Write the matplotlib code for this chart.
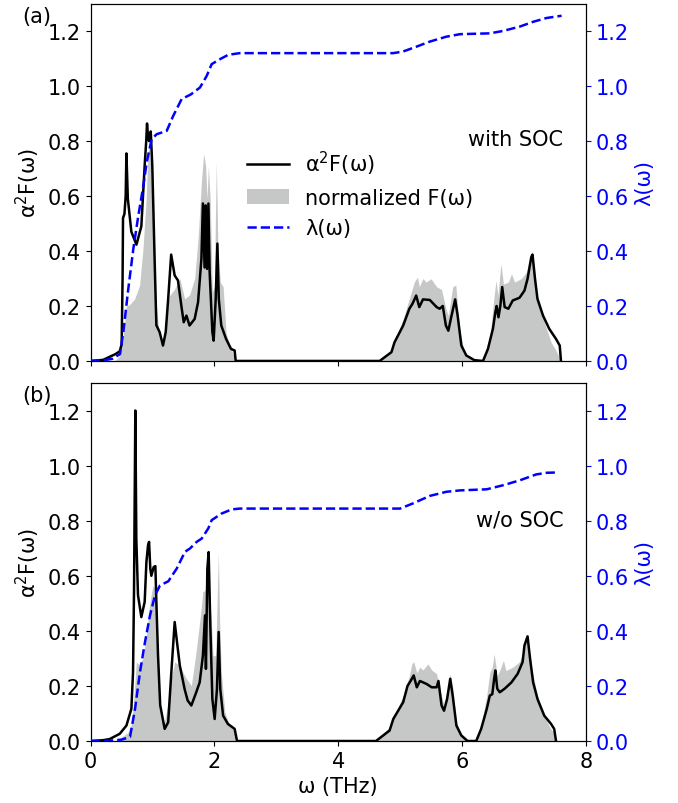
import matplotlib
matplotlib.use("Agg")
import matplotlib.pyplot as plt
from matplotlib.patches import Patch
from matplotlib.lines import Line2D

plt.rcParams['font.family'] = ['DejaVu Sans']
plt.rcParams['font.size'] = 15

# ---------------- data ----------------
# (a) with SOC : alpha^2 F(omega)
a2f_soc_w = [0.0, 0.2, 0.305, 0.40, 0.468, 0.50, 0.515, 0.522, 0.545, 0.565, 0.577, 0.60, 0.657, 0.739,
             0.818, 0.872, 0.897, 0.91, 0.925, 0.943, 0.97, 0.995, 1.035, 1.061, 1.114, 1.168, 1.212,
             1.252, 1.30, 1.357, 1.41, 1.465, 1.503, 1.547, 1.597, 1.68, 1.735, 1.789, 1.813, 1.84,
             1.857, 1.88, 1.902, 1.922, 1.966, 1.987, 2.02, 2.047, 2.07, 2.11, 2.188, 2.267, 2.326,
             2.343, 4.67, 4.86, 4.91, 5.05, 5.15, 5.20, 5.26, 5.31, 5.37, 5.48, 5.59, 5.64, 5.69,
             5.74, 5.78, 5.82, 5.89, 5.93, 5.99, 6.07, 6.2, 6.34, 6.42, 6.50, 6.54, 6.56, 6.59, 6.62,
             6.65, 6.69, 6.75, 6.82, 6.93, 7.01, 7.06, 7.12, 7.14, 7.18, 7.22, 7.31, 7.41, 7.52,
             7.58, 7.60]
a2f_soc_v = [0.0, 0.004, 0.015, 0.025, 0.035, 0.06, 0.30, 0.52, 0.535, 0.60, 0.755, 0.59, 0.47, 0.423,
             0.49, 0.712, 0.80, 0.864, 0.82, 0.80, 0.835, 0.71, 0.35, 0.13, 0.105, 0.056, 0.105,
             0.226, 0.387, 0.311, 0.293, 0.20, 0.141, 0.165, 0.129, 0.153, 0.214, 0.372, 0.573, 0.34,
             0.566, 0.335, 0.573, 0.323, 0.105, 0.074, 0.226, 0.427, 0.226, 0.129, 0.08, 0.044, 0.038,
             0.0, 0.0, 0.032, 0.068, 0.129, 0.19, 0.208, 0.238, 0.196, 0.224, 0.222, 0.196, 0.19, 0.20,
             0.129, 0.11, 0.153, 0.224, 0.165, 0.056, 0.02, 0.003, 0.0, 0.044, 0.117, 0.178, 0.20, 0.159, 0.20,
             0.269, 0.196, 0.19, 0.22, 0.23, 0.256, 0.299, 0.378, 0.387, 0.30, 0.226, 0.165, 0.117, 0.08,
             0.056, 0.0]

# (a) with SOC : normalized F(omega)
f_soc_w = [0.0, 0.39, 0.468, 0.522, 0.577, 0.63, 0.71, 0.79, 0.845, 0.897, 0.926, 0.946, 0.97, 1.005,
           1.061, 1.114, 1.168, 1.222, 1.276, 1.357, 1.44, 1.518, 1.597, 1.68, 1.735, 1.789, 1.825,
           1.857, 1.88, 1.902, 1.93, 1.966, 1.998, 2.03, 2.057, 2.094, 2.14, 2.188, 2.267, 2.343,
           4.67, 4.86, 5.05, 5.18, 5.23, 5.28, 5.31, 5.37, 5.42, 5.50, 5.59, 5.67, 5.74, 5.78, 5.85,
           5.90, 5.96, 6.04, 6.12, 6.34, 6.45, 6.52, 6.55, 6.58, 6.63, 6.67, 6.75, 6.80, 6.85, 6.96,
           7.04, 7.09, 7.14, 7.18, 7.22, 7.33, 7.44, 7.52, 7.58, 7.60]
f_soc_v = [0.0, 0.0, 0.02, 0.08, 0.20, 0.205, 0.226, 0.275, 0.41, 0.59, 0.76, 0.78, 0.70, 0.47,
           0.20, 0.08, 0.05, 0.178, 0.238, 0.262, 0.30, 0.226, 0.24, 0.30, 0.445, 0.652, 0.755,
           0.71, 0.59, 0.71, 0.59, 0.25, 0.27, 0.725, 0.40, 0.287, 0.27, 0.10, 0.044, 0.0,
           0.005, 0.04, 0.153, 0.25, 0.287, 0.305, 0.27, 0.30, 0.287, 0.299, 0.27, 0.26, 0.19, 0.165, 0.27,
           0.276, 0.117, 0.03, 0.01, 0.0, 0.08, 0.238, 0.293, 0.238, 0.354, 0.28, 0.287, 0.317, 0.287, 0.30,
           0.323, 0.366, 0.40, 0.31, 0.226, 0.141, 0.068, 0.038, 0.01, 0.0]

# (a) with SOC : lambda(omega)
lam_soc_w = [0.0, 0.2, 0.35, 0.473, 0.527, 0.607, 0.688, 0.769, 0.85, 0.905, 0.985, 1.066, 1.228,
             1.334, 1.47, 1.62, 1.766, 1.874, 1.955, 2.089, 2.223, 2.41, 4.89, 5.05, 5.27, 5.48,
             5.75, 5.97, 6.45, 6.67, 6.94, 7.15, 7.37, 7.61]
lam_soc_v = [0.0, 0.002, 0.008, 0.025, 0.105, 0.262, 0.407, 0.528, 0.637, 0.723, 0.807, 0.825, 0.837,
             0.892, 0.953, 0.97, 0.995, 1.037, 1.08, 1.098, 1.114, 1.12, 1.12, 1.126, 1.144, 1.162,
             1.18, 1.189, 1.192, 1.201, 1.217, 1.234, 1.248, 1.256]

# (b) w/o SOC : alpha^2 F(omega)
a2f_nosoc_w = [0.0, 0.2, 0.305, 0.468, 0.577, 0.657, 0.684, 0.70, 0.721, 0.737, 0.764, 0.818, 0.872,
               0.90, 0.926, 0.943, 0.963, 0.98, 1.018, 1.045, 1.061, 1.088, 1.123, 1.195, 1.252, 1.303,
               1.357, 1.394, 1.44, 1.518, 1.567, 1.626, 1.707, 1.761, 1.813, 1.847, 1.862, 1.885,
               1.906, 1.934, 1.966, 2.003, 2.04, 2.068, 2.094, 2.14, 2.217, 2.326, 2.365,
               4.61, 4.83, 4.89, 5.05, 5.12, 5.17, 5.22, 5.27, 5.32, 5.43, 5.51, 5.59, 5.62, 5.67,
               5.71, 5.76, 5.81, 5.85, 5.91, 5.99, 6.09, 6.23, 6.31, 6.40, 6.45, 6.49, 6.52, 6.54,
               6.57, 6.61, 6.69, 6.80, 6.90, 6.98, 7.01, 7.06, 7.10, 7.15, 7.22, 7.33, 7.44, 7.49, 7.52]
a2f_nosoc_v = [0.0, 0.003, 0.007, 0.026, 0.056, 0.117, 0.25, 0.55, 1.20, 0.735, 0.53, 0.45, 0.505,
               0.65, 0.71, 0.723, 0.626, 0.60, 0.632, 0.635, 0.505, 0.31, 0.13, 0.044, 0.068, 0.25,
               0.432, 0.36, 0.274, 0.188, 0.147, 0.129, 0.178, 0.213, 0.31, 0.456, 0.262, 0.626,
               0.686, 0.408, 0.153, 0.08, 0.188, 0.396, 0.188, 0.092, 0.062, 0.044, 0.0,
               0.0, 0.038, 0.08, 0.141, 0.2, 0.218, 0.238, 0.195, 0.218, 0.207, 0.195, 0.195, 0.218, 0.129,
               0.11, 0.153, 0.226, 0.165, 0.056, 0.02, 0.0, 0.0, 0.044, 0.116, 0.165, 0.17, 0.226, 0.256,
               0.19, 0.177, 0.19, 0.213, 0.244, 0.287, 0.347, 0.38, 0.30, 0.213, 0.153, 0.092, 0.062, 0.044, 0.0]

# (b) w/o SOC : normalized F(omega)
f_nosoc_w = [0.0, 0.39, 0.468, 0.60, 0.657, 0.69, 0.737, 0.779, 0.845, 0.90, 0.943, 0.976, 1.005,
             1.045, 1.088, 1.123, 1.183, 1.252, 1.30, 1.357, 1.44, 1.488, 1.547, 1.626, 1.695, 1.761,
             1.813, 1.843, 1.88, 1.912, 1.951, 1.976, 2.02, 2.063, 2.084, 2.11, 2.168, 2.247, 2.345,
             2.365, 4.61, 4.83, 5.05, 5.15, 5.19, 5.22, 5.27, 5.32, 5.37, 5.45, 5.51, 5.59, 5.64, 5.71,
             5.76, 5.81, 5.85, 5.91, 5.99, 6.09, 6.23, 6.31, 6.40, 6.45, 6.49, 6.52, 6.57, 6.61, 6.67,
             6.71, 6.82, 6.93, 7.00, 7.05, 7.10, 7.15, 7.22, 7.30, 7.41, 7.49, 7.52]
f_nosoc_v = [0.0, 0.0, 0.01, 0.03, 0.06, 0.13, 0.287, 0.278, 0.30, 0.383, 0.48, 0.53, 0.565,
             0.545, 0.31, 0.13, 0.06, 0.141, 0.226, 0.287, 0.274, 0.25, 0.226, 0.201, 0.31, 0.432,
             0.542, 0.546, 0.57, 0.556, 0.432, 0.31, 0.31, 0.686, 0.432, 0.25, 0.104, 0.055, 0.03,
             0.0, 0.005, 0.05, 0.165, 0.238, 0.28, 0.288, 0.248, 0.268, 0.258, 0.28, 0.258, 0.244, 0.188, 0.129,
             0.177, 0.244, 0.195, 0.067, 0.025, 0.005, 0.0, 0.055, 0.165, 0.25, 0.268, 0.316, 0.238, 0.256, 0.293,
             0.256, 0.268, 0.288, 0.327, 0.377, 0.30, 0.238, 0.165, 0.104, 0.055, 0.025, 0.005]

# (b) w/o SOC : lambda(omega)
lam_nosoc_w = [0.0, 0.3, 0.5, 0.635, 0.716, 0.796, 0.877, 0.958, 1.039, 1.12, 1.254, 1.39, 1.523,
               1.604, 1.712, 1.793, 1.9, 1.955, 2.116, 2.278, 2.41, 5.0, 5.21, 5.48, 5.75, 5.97,
               6.4, 6.67, 6.94, 7.2, 7.37, 7.53]
lam_nosoc_v = [0.0, 0.001, 0.005, 0.015, 0.116, 0.25, 0.359, 0.456, 0.529, 0.565, 0.58, 0.626, 0.687,
               0.699, 0.723, 0.735, 0.772, 0.802, 0.826, 0.841, 0.844, 0.844, 0.863, 0.89, 0.905, 0.91,
               0.914, 0.929, 0.947, 0.968, 0.974, 0.975]

x_ticks = [0, 2, 4, 6, 8]
y_ticks = [0.0, 0.2, 0.4, 0.6, 0.8, 1.0, 1.2]
panel_labels = ['(a)', '(b)']
panel_notes = ['with SOC', 'w/o SOC']
legend_labels = [r'α$^2$F(ω)', 'normalized F(ω)', 'λ(ω)']

# ---------------- plotting ----------------
GRAY = '#c6c8c7'
fig = plt.figure(figsize=(6.78, 8.04), dpi=100)
L, R = 0.1338, 0.8639
ax_a = fig.add_axes([L, 0.5498, R - L, 0.9942 - 0.5498])
ax_b = fig.add_axes([L, 0.0771, R - L, 0.5224 - 0.0771])

panels = [
    (ax_a, a2f_soc_w, a2f_soc_v, f_soc_w, f_soc_v, lam_soc_w, lam_soc_v),
    (ax_b, a2f_nosoc_w, a2f_nosoc_v, f_nosoc_w, f_nosoc_v, lam_nosoc_w, lam_nosoc_v),
]

for i, (ax, aw, av, fw, fv, lw_, lv) in enumerate(panels):
    ax.fill_between(fw, 0, fv, color=GRAY, lw=0, zorder=1)
    ax.plot(aw, av, color='black', lw=1.8, zorder=3)
    ax.set_xlim(0, 8)
    ax.set_ylim(0, 1.3)
    ax.set_xticks(x_ticks)
    ax.set_yticks(y_ticks)
    ax.set_yticklabels([f'{t:.1f}' for t in y_ticks])
    ax.set_ylabel(r'α$^2$F(ω)', labelpad=4)
    ax2 = ax.twinx()
    ax2.plot(lw_, lv, color='blue', lw=1.8, ls='--', zorder=3)
    ax2.set_ylim(0, 1.3)
    ax2.set_yticks(y_ticks)
    ax2.set_yticklabels([f'{t:.1f}' for t in y_ticks])
    ax2.tick_params(axis='y', colors='blue')
    ax2.spines['right'].set_color('black')
    ax2.set_ylabel('λ(ω)', color='blue', labelpad=4)
    ax.text(-0.139, 0.966, panel_labels[i], transform=ax.transAxes, ha='left', va='center')
    ax.text(0.955, 0.62, panel_notes[i], transform=ax.transAxes, ha='right', va='center')

ax_a.tick_params(axis='x', labelbottom=False)
ax_b.set_xlabel('ω (THz)')

handles = [Line2D([], [], color='black', lw=1.8),
           Patch(facecolor=GRAY, edgecolor='none'),
           Line2D([], [], color='blue', lw=1.8, ls='--')]
ax_a.legend(handles, legend_labels, loc='upper left', bbox_to_anchor=(0.299, 0.616),
            frameon=False, borderaxespad=0)

fig.savefig('out.png', dpi=100)
